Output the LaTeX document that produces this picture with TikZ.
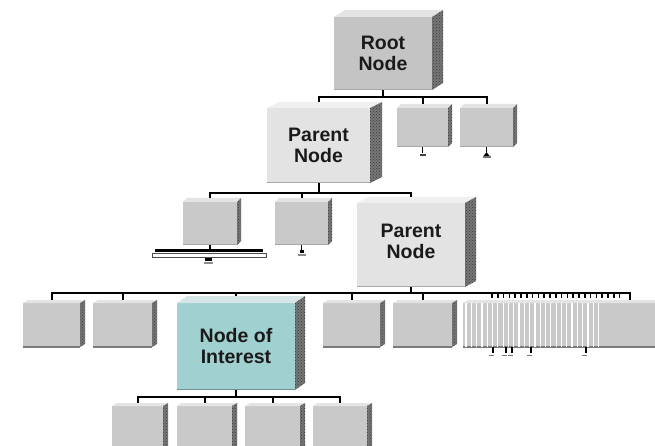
\documentclass[tikz,border=0pt]{standalone}
\usepackage{fontspec}
\setmainfont{Liberation Sans}
\usetikzlibrary{calc,patterns}
\definecolor{frontg}{HTML}{C9C9C9}
\definecolor{rootg}{HTML}{C4C4C4}
\definecolor{topg}{HTML}{E4E4E4}
\definecolor{frontp}{HTML}{E3E3E3}
\definecolor{topp}{HTML}{F0F0F0}
\definecolor{frontt}{HTML}{A0D0CF}
\definecolor{topt}{HTML}{D6E6E6}
\definecolor{sideg}{HTML}{767676}
\definecolor{sidedot}{HTML}{3C3C3C}
\definecolor{botg}{HTML}{A8A8A8}
\definecolor{botr}{HTML}{7A7A7A}
\definecolor{txt}{HTML}{1A1A1A}
\newcommand\blk[9]{%
  \pgfmathsetmacro\bw{#4-#2}\pgfmathsetmacro\bh{#5-#3}%
  \node[#8, minimum width=\bw pt, minimum height=\bh pt] (#1) at ({(#2+#4)/2},{(#3+#5)/2}) {#9};
  \fill[#8 top] (#1.north west) -- ++(#6,-#7) -- ($(#1.north east)+(#6,-#7)$) -- (#1.north east) -- cycle;
  \fill[#8 side] (#1.north east) -- ++(#6,-#7) -- ($(#1.south east)+(#6,-#7)$) -- (#1.south east) -- cycle;
  \draw[#8 bot] ($(#1.south west)+(0,-0.5)$) -- ($(#1.south east)+(0,-0.5)$);
  \coordinate (#1-t) at ($(#1.north)+(0,-#7)$);
}
\tikzset{
  x=1pt, y=-1pt,
  boxbase/.style={draw=none, inner sep=0pt, outer sep=0pt, align=center,
    font=\fontsize{19.5}{21}\selectfont\bfseries, text=txt},
  sidebase/.style={fill=sideg, postaction={pattern=crosshatch dots, pattern color=sidedot}},
  gbox/.style={boxbase, fill=frontg},
  gbox top/.style={fill=topg},
  gbox side/.style={sidebase},
  gbox bot/.style={draw=botg, line width=1pt},
  rbox/.style={boxbase, fill=frontg},
  rbox top/.style={fill=topg},
  rbox side/.style={sidebase},
  rbox bot/.style={draw=botr, line width=2pt},
  rootbox/.style={boxbase, fill=rootg},
  rootbox top/.style={fill=topg},
  rootbox side/.style={sidebase},
  rootbox bot/.style={draw=botg, line width=1pt},
  pbox/.style={boxbase, fill=frontp},
  pbox top/.style={fill=topp},
  pbox side/.style={sidebase},
  pbox bot/.style={draw=botg, line width=1pt},
  tbox/.style={boxbase, fill=frontt},
  tbox top/.style={fill=topt},
  tbox side/.style={sidebase},
  tbox bot/.style={draw=frontt!70!black, line width=1pt},
  conn/.style={draw=black, line width=2pt},
  tick/.style={draw=black, line width=1.5pt},
  stem/.style={draw=black, line width=1.3pt},
}
\begin{document}
\begin{tikzpicture}
\useasboundingbox (0,0) rectangle (655,446);
\clip (0,0) rectangle (655,446);
\fill[white] (0,0) rectangle (655,446);
% level 0
\blk{root}{334}{17}{432}{90}{11}{7}{rootbox}{Root\\Node}
% level 1
\blk{pn1}{267}{108}{370}{183}{12}{6}{pbox}{Parent\\Node}
\blk{b1}{397}{108}{448}{147}{4}{4}{gbox}{}
\blk{b2}{460}{108}{513}{147}{4}{4}{gbox}{}
% level 2
\blk{c1}{183}{202}{237}{245}{4}{4}{gbox}{}
\blk{c2}{275}{202}{328}{245}{4}{4}{gbox}{}
\blk{pn2}{357}{203}{465}{287}{11}{6}{pbox}{Parent\\Node\\[-13pt]\mbox{}}
% level 3
\blk{e1}{23}{303}{80}{347}{5}{3}{rbox}{}
\blk{e2}{93}{303}{152}{347}{5}{3}{rbox}{}
\blk{noi}{177}{303}{295}{390}{10}{7}{tbox}{Node of\\Interest}
\blk{e3}{323}{303}{380}{347}{5}{3}{rbox}{}
\blk{e4}{393}{303}{452}{347}{5}{3}{rbox}{}
\blk{grp}{463}{303}{662}{347}{5}{3}{rbox}{}
\foreach \i in {0,...,25}
  \draw[white, line width=1.2pt] ($(grp.north west)+(3+\i*5.3,0)$) -- ++(0,44);
% level 4
\blk{f1}{112}{406}{163}{452}{5}{3}{gbox}{}
\blk{f2}{177}{406}{232}{452}{5}{3}{gbox}{}
\blk{f3}{245}{406}{300}{452}{5}{3}{gbox}{}
\blk{f4}{313}{406}{367}{452}{5}{3}{gbox}{}
% connectors
\draw[conn] (root.south) -- ++(0,7) -| (pn1-t);
\draw[conn] (root.south) -- ++(0,7) -| (b1-t);
\draw[conn] (root.south) -- ++(0,7) -| (b2-t);
\draw[conn] (pn1.south) -- ++(0,10) -| (c1-t);
\draw[conn] (pn1.south) -- ++(0,10) -| (c2-t);
\draw[conn] (pn1.south) -- ++(0,10) -| (pn2-t);
\coordinate (grp-r) at ($(grp.north west)+(167,-3)$);
\draw[conn] (pn2.south) -- ++(0,6) -| (e1-t);
\draw[conn] (pn2.south) -- ++(0,6) -| (e2-t);
\draw[conn] (pn2.south) -- ++(0,6) -| (noi-t);
\draw[conn] (pn2.south) -- ++(0,6) -| (e3-t);
\draw[conn] (pn2.south) -- ++(0,6) -| (e4-t);
\draw[conn] (pn2.south) -- ++(0,6) -| (grp-r);
\foreach \i in {0,...,22}
  \draw[tick] ($(grp.north west)+(29+\i*5.8,-10)$) -- ++(0,5);
\draw[conn] (noi.south) -- ++(0,7) -| (f1-t);
\draw[conn] (noi.south) -- ++(0,7) -| (f2-t);
\draw[conn] (noi.south) -- ++(0,7) -| (f3-t);
\draw[conn] (noi.south) -- ++(0,7) -| (f4-t);
% collapsed-subtree marks
\draw[stem] (b1.south) -- ++(0,6);
\fill[black!75] ($(b1.south)+(-3,7)$) rectangle ++(6,2.5);
\draw[stem] (b2.south) -- ++(0,5);
\fill[black] ($(b2.south)+(-3,9)$) -- ++(3,-4) -- ++(3,4) -- cycle;
\fill[black!55] ($(b2.south)+(-4,9)$) rectangle ++(8,2);
\draw[stem] (c1.south) -- ++(0,5) coordinate (c1j);
\draw[black, line width=3pt] ($(c1j)+(-55,0)$) -- ++(108,0);
\draw[fill=white, draw=black!70, line width=0.8pt] ($(c1j)+(-58,3)$) rectangle ++(114,4);
\fill[black] ($(c1j)+(-5,8)$) rectangle ++(7,3);
\fill[black!45] ($(c1j)+(-6,12)$) rectangle ++(9,1.5);
\draw[stem] (c2.south) -- ++(0,6);
\fill[black] ($(c2.south)+(-2,5)$) rectangle ++(4,3);
\fill[black!45] ($(c2.south)+(-4,9)$) rectangle ++(8,1.5);
\foreach \x in {30,43,49,68,123} {
  \draw[stem] ($(grp.south west)+(\x,0)$) -- ++(0,6);
  \draw[black!55, line width=1pt] ($(grp.south west)+(\x-4,8)$) -- ++(5,0);
}
\end{tikzpicture}
\end{document}
